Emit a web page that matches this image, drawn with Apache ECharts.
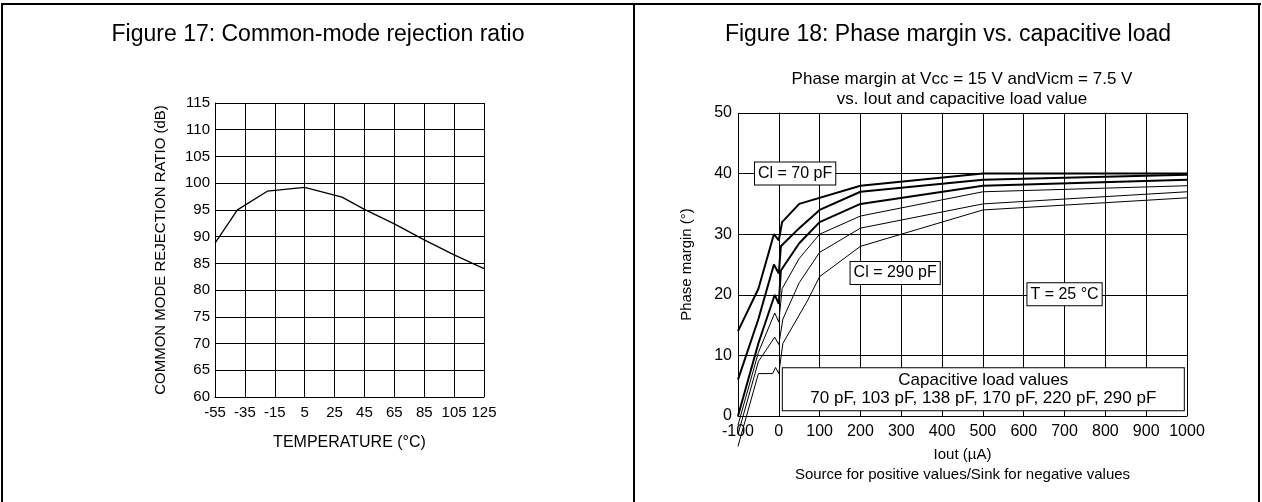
<!DOCTYPE html>
<html lang="en">
  <head>
    <meta charset="UTF-8" />
    <meta name="viewport" content="width=device-width, initial-scale=1.0" />
    <title>CMRR and phase margin</title>
    <script src="https://cdn.jsdelivr.net/npm/echarts@6/dist/echarts.min.js"></script>
    <style>
      * {
        margin: 0;
        padding: 0;
      }
      html,
      body {
        background: #fff;
      }
    </style>
  </head>
  <body>
    <div id="charts" style="width: 1262px; height: 502px"></div>
    <script>
      // Figure 17: CMRR vs temperature
      var tempC = [-55, -40, -20, 5, 30, 45, 65, 85, 105, 125];
      var cmrrDb = [88.8, 95.0, 98.5, 99.2, 97.4, 95.1, 92.4, 89.4, 86.6, 84.0];
      var tempFirstTick = -55;

      // Figure 18: phase margin vs Iout, one list of [Iout, deg] per load
      var loadNames = ["70 pF", "103 pF", "138 pF", "170 pF", "220 pF", "290 pF"];
      var pm70 = [[-100, 14], [-50, 21], [-12, 30], [0, 29], [8, 32], [50, 35], [200, 38], [500, 40], [1000, 40]];
      var pm103 = [[-100, 6], [-50, 16], [-12, 25], [0, 23.5], [5, 28], [50, 31], [100, 34], [200, 37], [500, 39], [1000, 39.8]];
      var pm138 = [[-100, 0], [-50, 12], [-10, 20], [0, 18.5], [5, 24], [50, 28.5], [100, 32], [200, 35], [500, 38], [1000, 39]];
      var pm170 = [[-100, -1.5], [-50, 10.5], [-10, 17], [0, 15.5], [8, 21], [50, 26], [100, 30], [200, 33], [500, 37], [1000, 38]];
      var pm220 = [[-100, -3], [-50, 9], [-10, 13], [0, 11.8], [10, 16], [50, 22], [100, 27], [200, 31], [500, 35], [1000, 37]];
      var pm290 = [[-100, -5], [-50, 7], [-15, 7], [-8, 8], [0, 7], [10, 12], [70, 19], [100, 23], [200, 28], [500, 34], [1000, 36]];
      var pmCurves = [pm70, pm103, pm138, pm170, pm220, pm290];

      var font = "Liberation Sans, Arial, sans-serif";
      var myEcharts = echarts.init(document.getElementById("charts"));

      var gridLine = { show: true, lineStyle: { color: "#000", width: 1 } };
      var axisLine = { show: true, lineStyle: { color: "#000", width: 1 } };

      var pmSeries = pmCurves.map(function (pts, i) {
        return {
          name: loadNames[i],
          type: "line",
          xAxisIndex: 1,
          yAxisIndex: 1,
          data: pts,
          showSymbol: false,
          clip: false,
          silent: true,
          lineStyle: { color: "#000", width: i < 3 ? 2 : 1 },
        };
      });

      function box(txt, x, y, extra) {
        var label = {
          show: true,
          position: "inside",
          formatter: txt,
          color: "#000",
          fontFamily: font,
          fontSize: 16,
          backgroundColor: "#fff",
          borderColor: "#000",
          borderWidth: 1,
          padding: [3, 3],
        };
        Object.assign(label, extra || {});
        return { value: [x, y], label: label };
      }

      function text(str, x, y, size) {
        return {
          type: "text",
          x: x,
          y: y,
          style: { text: str, font: size + "px " + font, fill: "#000", textAlign: "center", textVerticalAlign: "middle" },
        };
      }

      function frame(x1, y1, x2, y2) {
        return { type: "line", shape: { x1: x1, y1: y1, x2: x2, y2: y2 }, style: { stroke: "#000", lineWidth: 2 } };
      }

      var options = {
        animation: false,
        textStyle: { fontFamily: font },
        graphic: [
          frame(1, 4, 1261, 4),
          frame(2, 4, 2, 502),
          frame(634, 4, 634, 502),
          frame(1259, 4, 1259, 502),
          text("Figure 17: Common-mode rejection ratio", 318, 35, 23),
          text("Figure 18: Phase margin vs. capacitive load", 948, 35, 23),
          text("Phase margin at Vcc = 15 V andVicm = 7.5 V", 962, 79, 17),
          text("vs. Iout and capacitive load value", 962, 99, 17),
        ],
        grid: [
          { left: 215, right: 778, top: 103, bottom: 105 },
          { left: 738, right: 75, top: 113, bottom: 86 },
        ],
        xAxis: [
          {
            gridIndex: 0,
            type: "value",
            min: 0,
            max: 180,
            interval: 20,
            axisLine: axisLine,
            axisTick: { show: false },
            splitLine: gridLine,
            axisLabel: {
              color: "#000",
              fontSize: 15,
              margin: 8,
              formatter: function (v) {
                return String(v + tempFirstTick);
              },
            },
            name: "TEMPERATURE (°C)",
            nameLocation: "middle",
            nameGap: 38,
            nameTextStyle: { color: "#000", fontSize: 16 },
          },
          {
            gridIndex: 1,
            type: "value",
            min: -100,
            max: 1000,
            interval: 100,
            axisLine: axisLine,
            axisTick: { show: false },
            splitLine: gridLine,
            axisLabel: {
              color: "#000",
              fontSize: 16,
              margin: 8,
              formatter: function (v) {
                return String(v);
              },
            },
            name: "Iout (µA)\nSource for positive values/Sink for negative values",
            nameLocation: "middle",
            nameGap: 26,
            nameTextStyle: { color: "#000", fontSize: 15, lineHeight: 20 },
          },
        ],
        yAxis: [
          {
            gridIndex: 0,
            type: "value",
            min: 60,
            max: 115,
            interval: 5,
            axisLine: axisLine,
            axisTick: { show: false },
            splitLine: gridLine,
            axisLabel: { color: "#000", fontSize: 15, margin: 5 },
            name: "COMMON MODE REJECTION RATIO (dB)",
            nameLocation: "middle",
            nameGap: 47,
            nameTextStyle: { color: "#000", fontSize: 15 },
          },
          {
            gridIndex: 1,
            type: "value",
            min: 0,
            max: 50,
            interval: 10,
            axisLine: axisLine,
            axisTick: { show: true, length: 4, lineStyle: { color: "#000" } },
            splitLine: gridLine,
            axisLabel: { color: "#000", fontSize: 16, margin: 6 },
            name: "Phase margin (°)",
            nameLocation: "middle",
            nameGap: 44,
            nameTextStyle: { color: "#000", fontSize: 15 },
          },
        ],
        series: [
          {
            type: "line",
            xAxisIndex: 0,
            yAxisIndex: 0,
            data: tempC.map(function (t, i) {
              return [t - tempFirstTick, cmrrDb[i]];
            }),
            showSymbol: false,
            silent: true,
            lineStyle: { color: "#000", width: 1.3 },
          },
        ]
          .concat(pmSeries)
          .concat([
            {
              type: "scatter",
              xAxisIndex: 1,
              yAxisIndex: 1,
              symbolSize: 0,
              silent: true,
              z: 10,
              itemStyle: { opacity: 1 },
              data: [
                box("Cl = 70 pF", 40, 40),
                box("Cl = 290 pF", 285, 23.6),
                box("T = 25 °C", 700, 20.1),
                box("Capacitive load values\n" + loadNames.join(", "), 501, 4.4, {
                  width: 393,
                  align: "center",
                  fontSize: 17,
                  lineHeight: 18,
                  padding: [3, 4],
                }),
              ],
            },
          ]),
      };
      myEcharts.setOption(options);
    </script>
  </body>
</html>
